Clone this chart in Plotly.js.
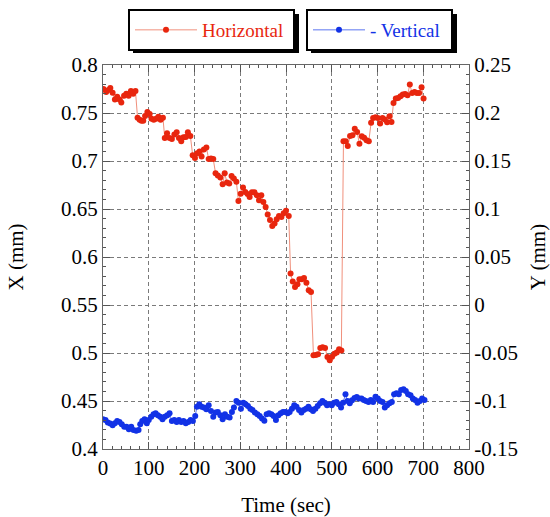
<!DOCTYPE html>
<html>
<head>
<meta charset="utf-8">
<script src="https://cdn.plot.ly/plotly-3.0.1.min.js"></script>
<style>html,body{margin:0;padding:0;background:#fff;}#chart{width:550px;height:517px;}</style>
</head>
<body>
<div id="chart"></div>
<script>
// Horizontal (X, left axis) series
const hTime = [1,7,12,16,21,26,31,36,40,46,51,56,61,66,71,75.5,80,84,88,92,97,102,106,111,116,121,126,131,
  135,140,145.5,150.5,156,161,166,171,176,181,185.5,191,196,201,206,211,215.5,220.5,226,231,236,241,
  246,251,256.5,261.5,266,271,276,281,286,291.5,296,301,306,311,316,320.5,325.6,331,336,341,346,350.5,355.5,
  360,365,370,375,379.6,384.7,390,395,400,406,410,414.7,419.7,425,429.3,434.4,439.4,444.6,449.7,454.7,
  460,465,470,475,480,485.4,490.6,495.6,500.7,505.9,511,516,521,525.6,530.6,535,540,545.3,550.3,555.4,
  560.5,565.6,570.7,575.9,581,586,590.4,595.6,600.7,605.7,610.9,616,621,626.2,630.6,635,640,645,650.3,
  655.3,660.4,665.6,670.6,675.7,681,686,691,696.3,700.7];
const hValue = [0.775,0.772,0.774,0.776,0.771,0.764,0.767,0.764,0.761,0.768,0.770,0.768,0.773,0.770,0.773,
  0.745,0.743,0.742,0.742,0.747,0.751,0.749,0.744,0.743,0.744,0.746,0.743,0.745,
  0.724,0.729,0.724,0.723,0.7275,0.730,0.724,0.7205,0.7247,0.725,0.730,0.726,
  0.706,0.703,0.708,0.710,0.7046,0.712,0.714,0.702,0.7025,0.702,
  0.6872,0.685,0.6827,0.6757,0.6872,0.6775,0.6765,0.6844,0.6817,0.6785,
  0.6583,0.666,0.6723,0.6677,0.6656,0.6625,0.6675,0.6675,0.6643,0.659,0.6643,0.6573,0.652,
  0.6444,0.6385,0.6323,0.635,0.6393,0.6427,0.6417,0.6455,0.6483,0.6427,
  0.5827,0.5744,0.5688,0.5716,0.5768,0.5768,0.5781,0.5733,0.5653,0.5635,
  0.4976,0.4979,0.4986,0.5052,0.5059,0.5052,0.4958,0.4924,0.4962,0.4993,0.5004,0.5038,0.5027,
  0.7205,0.7205,0.7156,0.726,0.7268,0.7337,0.7302,0.7179,0.7258,0.7241,0.7217,0.7206,
  0.7398,0.7448,0.7455,0.7448,0.739,0.7448,0.7431,0.7403,0.7466,0.7406,
  0.7604,0.765,0.7656,0.7674,0.7692,0.7698,0.7684,0.7796,0.7708,0.7719,0.7708,0.7708,0.7768,0.765];

// Vertical (Y, right axis) series
const vTime = [0,5.5,10.5,15.8,21,26,31,36,41,46.4,51.4,56.5,61.7,66.7,72.6,77.7,81.4,85.8,90.8,95.8,100,
  105.5,110.5,115,120,125,130,135,140.5,145.5,150.5,155.8,161,166,171,176,181,186.4,191.5,196.5,201.6,
  205.3,210.5,215.5,220.6,225.8,231,236,241,246,251,256.5,261.5,266.5,271.8,276.8,281.8,286.2,291.5,296.5,
  301.5,306.8,311.8,316.8,322,326.7,332,337.4,342.5,347.5,352.7,357.7,362.8,368,373,378,383.4,388.4,393.4,
  398.6,403.7,408,413,418,423,428.5,433.7,438.8,443.8,449,454,459,464.3,469.3,474.4,479.6,484.7,489.7,495,
  500,505,510.3,515.3,520.3,524.7,530,534.4,539.4,544.4,549.7,554.7,559.7,565,570,575,580.3,585.3,590.4,
  595.6,600.7,605.7,610.9,616,621,626.2,631.3,636.3,641.5,646.6,651.6,656.9,661.9,666.9,672.2,677.2,682.3,
  687.5,692.6,697.6,702.8];
const vValue = [-0.1191,-0.1198,-0.1225,-0.1235,-0.1253,-0.1232,-0.1208,-0.1219,-0.1243,-0.1267,-0.1267,
  -0.1295,-0.1267,-0.1302,-0.1309,-0.1302,-0.1243,-0.1208,-0.1191,-0.1232,-0.1198,-0.1163,-0.1139,-0.1128,
  -0.1149,-0.1163,-0.1191,-0.1163,-0.1149,-0.1128,-0.1208,-0.1198,-0.1219,-0.1198,-0.1219,-0.1208,-0.1232,
  -0.1219,-0.1198,-0.1208,-0.1156,-0.1059,-0.1035,-0.1059,-0.1069,-0.1087,-0.1045,-0.1104,-0.1163,-0.1121,
  -0.1114,-0.1149,-0.1191,-0.1139,-0.1163,-0.1173,-0.1114,-0.1069,-0.1000,-0.1017,-0.1080,-0.1017,-0.1035,
  -0.1052,-0.1080,-0.1094,-0.1121,-0.1139,-0.1156,-0.1183,-0.1205,-0.1139,-0.1128,-0.1139,-0.1156,-0.1198,
  -0.1149,-0.1128,-0.1114,-0.1114,-0.1128,-0.1114,-0.108,-0.1045,-0.1059,-0.1094,-0.1121,-0.1094,-0.108,
  -0.1059,-0.1087,-0.1104,-0.108,-0.1052,-0.1024,-0.1,-0.1017,-0.1045,-0.1035,-0.1045,-0.1017,-0.101,
  -0.1035,-0.1069,-0.1017,-0.093,-0.1,-0.1024,-0.0993,-0.0969,-0.0958,-0.0975,-0.0975,-0.099,-0.1,-0.101,
  -0.099,-0.101,-0.0955,-0.0975,-0.1,-0.101,-0.1069,-0.1045,-0.1024,-0.101,-0.093,-0.092,-0.093,-0.0885,
  -0.0878,-0.0896,-0.093,-0.0941,-0.0975,-0.099,-0.1017,-0.1,-0.0975,-0.099];

const y2TickVals = [-0.15,-0.1,-0.05,0,0.05,0.1,0.15,0.2,0.25];
const y2TickText = ['-0.15','-0.1','-0.05','0','0.05','0.1','0.15','0.2','0.25'];

const FONT = 'Liberation Serif, Times New Roman, serif';
const RED = '#e8260e', RED_LINE = '#f0907c';
const BLUE = '#1232e6', BLUE_LINE = '#5a74f0';

const traces = [
  {x: hTime, y: hValue, name: 'Horizontal', type: 'scatter', mode: 'lines+markers',
   line: {color: RED_LINE, width: 1}, marker: {color: RED, size: 6}, yaxis: 'y', legend: 'legend'},
  {x: vTime, y: vValue, name: '- Vertical', type: 'scatter', mode: 'lines+markers',
   line: {color: BLUE_LINE, width: 1}, marker: {color: BLUE, size: 6}, yaxis: 'y2', legend: 'legend2'}
];

const axisCommon = {
  ticks: 'inside', ticklen: 7, tickcolor: '#555', tickwidth: 1,
  showline: true, linecolor: '#666', linewidth: 1,
  showgrid: true, gridcolor: '#7a7a7a', griddash: '4px,3px', gridwidth: 1,
  zeroline: false, tickfont: {family: FONT, size: 21, color: '#000'}
};

const L = 103, R = 469, T = 65, B = 449;
const px = v => (v - L) / (R - L);
const py = v => (B - v) / (B - T);

const layout = {
  width: 550, height: 517,
  margin: {l: L, r: 550 - R, t: T, b: 517 - B, autoexpand: false},
  paper_bgcolor: '#fff', plot_bgcolor: '#fff',
  font: {family: FONT, size: 21, color: '#000'},
  showlegend: true,
  xaxis: Object.assign({}, axisCommon, {
    range: [0, 800], dtick: 100, tick0: 0, mirror: 'ticks',
    minor: {dtick: 20, tick0: 0, ticks: 'inside', ticklen: 3, tickcolor: '#555', showgrid: false},
    title: {text: 'Time (sec)', font: {family: FONT, size: 21}, standoff: 18}
  }),
  yaxis: Object.assign({}, axisCommon, {
    range: [0.4, 0.8], dtick: 0.05, tick0: 0.4,
    minor: {dtick: 0.01, tick0: 0.4, ticks: 'inside', ticklen: 3, tickcolor: '#555', showgrid: false},
    title: {text: 'X (mm)', font: {family: FONT, size: 21}, standoff: 31}
  }),
  yaxis2: Object.assign({}, axisCommon, {
    overlaying: 'y', side: 'right', range: [-0.15, 0.25],
    tickmode: 'array', tickvals: y2TickVals, ticktext: y2TickText, showgrid: false,
    minor: {dtick: 0.01, tick0: -0.15, ticks: 'inside', ticklen: 3, tickcolor: '#555', showgrid: false},
    title: {text: 'Y (mm)', font: {family: FONT, size: 21}, standoff: 14}
  }),
  legend: {
    x: px(128), y: py(9), xanchor: 'left', yanchor: 'top', orientation: 'h',
    entrywidth: 86, entrywidthmode: 'pixels',
    bgcolor: '#fff', bordercolor: '#000', borderwidth: 2,
    font: {family: FONT, size: 19, color: RED}, itemwidth: 62
  },
  legend2: {
    x: px(306), y: py(9), xanchor: 'left', yanchor: 'top', orientation: 'h',
    entrywidth: 76, entrywidthmode: 'pixels',
    bgcolor: '#fff', bordercolor: '#000', borderwidth: 2,
    font: {family: FONT, size: 19, color: BLUE}, itemwidth: 52
  },
  shapes: [
    {type: 'rect', xref: 'paper', yref: 'paper', x0: px(133), x1: px(299), y0: py(14), y1: py(53),
     fillcolor: '#000', line: {width: 0}},
    {type: 'rect', xref: 'paper', yref: 'paper', x0: px(311), x1: px(457), y0: py(14), y1: py(53),
     fillcolor: '#000', line: {width: 0}}
  ]
};

Plotly.newPlot('chart', traces, layout, {displayModeBar: false, staticPlot: true});
</script>
</body>
</html>
